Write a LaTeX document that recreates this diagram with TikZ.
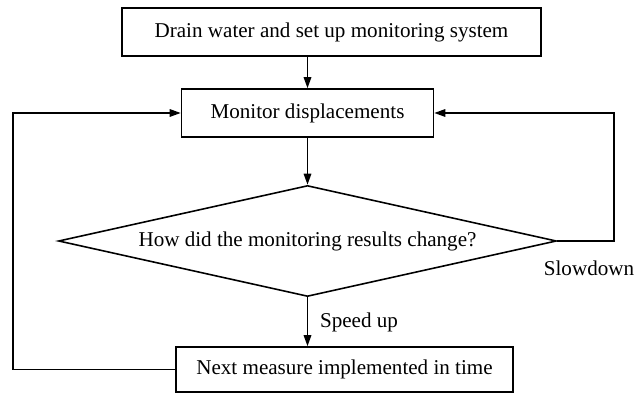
\documentclass[tikz,border=0pt]{standalone}
\usepackage{fontspec}
\setmainfont{Liberation Serif}
\usetikzlibrary{shapes.geometric,arrows.meta}
\begin{document}
\begin{tikzpicture}[
	box/.style = {draw, line width = 0.9pt, inner sep = 0pt, font = \fontsize{12}{14}\selectfont},
	link/.style = {line width = 0.9pt, -{Triangle[length=2.2mm,width=1.5mm]}},
	lbl/.style = {font = \fontsize{12}{14}\selectfont}]
		\useasboundingbox (0,0) rectangle (12.7,7.88);
		\node [box, minimum width = 8.38cm, minimum height = 0.96cm](drain) at (6.63,7.24) {Drain water and set up monitoring system};
		\node [box, minimum width = 5.04cm, minimum height = 0.96cm](monitor) at (6.15,5.62) {Monitor displacements};
		\node [box, shape = diamond, aspect = 4.5, minimum width = 9.96cm, minimum height = 2.22cm](change) at (6.15,3.06) {How did the monitoring results change?};
		\node [box, minimum width = 6.74cm, minimum height = 0.9cm](next) at (6.89,0.49) {Next measure implemented in time};
		\node [lbl](slow) at (11.78,2.52) {Slowdown};
		\node [lbl](speed) at (7.18,1.44) {Speed up};
		\draw [link] (monitor.north |- drain.south) -- (monitor.north);
		\draw [link] (monitor.south) -- (change.north);
		\draw [link] (change.south) -- (change.south |- next.north);
		\draw [link] (change.east) -- (12.28,3.06) -- (12.28,5.62) -- (monitor.east);
		\draw [link] (next.west) -- (0.26,0.49) -- (0.26,5.62) -- (monitor.west);
\end{tikzpicture}
\end{document}
